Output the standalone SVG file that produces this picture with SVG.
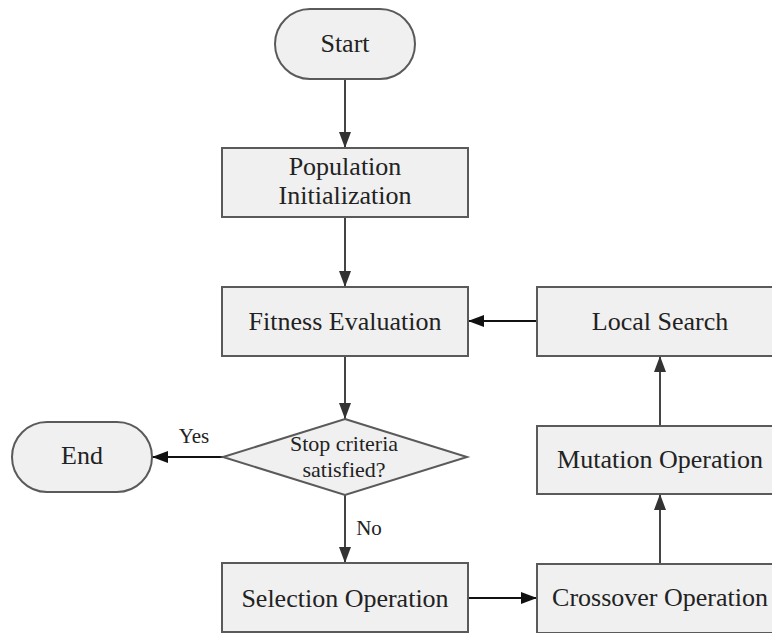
<svg xmlns="http://www.w3.org/2000/svg" width="772" height="633" viewBox="0 0 772 633">
<defs>
<style>
.box{fill:#f0f0f0;stroke:#5a5a5a;stroke-width:2}
.t{font-family:"Liberation Serif","Times New Roman",serif;font-size:26px;fill:#222;text-anchor:middle}
.s{font-family:"Liberation Serif","Times New Roman",serif;font-size:22px;fill:#222;text-anchor:middle}
.ln{stroke:#444;stroke-width:2;fill:none}
.lk{stroke:#111;stroke-width:2;fill:none}
</style>
<marker id="ah" viewBox="0 0 16 12" refX="16" refY="6" markerWidth="16" markerHeight="12" markerUnits="userSpaceOnUse" orient="auto">
<path d="M0,0 L16,6 L0,12 Z" fill="#333"/>
</marker>
<marker id="ak" viewBox="0 0 16 12" refX="16" refY="6" markerWidth="16" markerHeight="12" markerUnits="userSpaceOnUse" orient="auto">
<path d="M0,0 L16,6 L0,12 Z" fill="#111"/>
</marker>
</defs>
<rect width="772" height="633" fill="#fff"/>
<g id="connectors">
<line class="ln" x1="345" y1="79" x2="345" y2="148" marker-end="url(#ah)"/>
<line class="ln" x1="345" y1="217" x2="345" y2="287" marker-end="url(#ah)"/>
<line class="ln" x1="345" y1="356" x2="345" y2="419" marker-end="url(#ah)"/>
<line class="lk" x1="223" y1="457" x2="152" y2="457" marker-end="url(#ak)"/>
<line class="ln" x1="345" y1="495" x2="345" y2="563" marker-end="url(#ah)"/>
<line class="lk" x1="468" y1="598" x2="537" y2="598" marker-end="url(#ak)"/>
<line class="ln" x1="660" y1="564" x2="660" y2="494" marker-end="url(#ah)"/>
<line class="ln" x1="660" y1="426" x2="660" y2="356" marker-end="url(#ah)"/>
<line class="lk" x1="537" y1="321" x2="468" y2="321" marker-end="url(#ak)"/>
<text class="s" x="194" y="443" style="font-size:21px">Yes</text>
<text class="s" x="369" y="535" style="font-size:21px">No</text>
</g>
<g id="start">
<rect class="box" x="275" y="9" width="140" height="70" rx="35" ry="35"/>
<text class="t" x="345" y="52">Start</text>
</g>
<g id="population">
<rect class="box" x="222" y="148" width="246" height="69"/>
<text class="t" x="345" y="175">Population</text>
<text class="t" x="345" y="204">Initialization</text>
</g>
<g id="fitness">
<rect class="box" x="222" y="287" width="246" height="69"/>
<text class="t" x="345" y="330">Fitness Evaluation</text>
</g>
<g id="decision">
<polygon class="box" points="345,419 467,457 345,495 223,457"/>
<text class="s" x="344" y="451">Stop criteria</text>
<text class="s" x="344" y="477">satisfied?</text>
</g>
<g id="end">
<rect class="box" x="12" y="422" width="140" height="70" rx="35" ry="35"/>
<text class="t" x="82" y="464">End</text>
</g>
<g id="selection">
<rect class="box" x="222" y="563" width="246" height="69"/>
<text class="t" x="345" y="607">Selection Operation</text>
</g>
<g id="crossover">
<rect class="box" x="537" y="564" width="246" height="69"/>
<text class="t" x="660" y="606">Crossover Operation</text>
</g>
<g id="mutation">
<rect class="box" x="537" y="426" width="246" height="68"/>
<text class="t" x="660" y="468">Mutation Operation</text>
</g>
<g id="localsearch">
<rect class="box" x="537" y="287" width="246" height="69"/>
<text class="t" x="660" y="330">Local Search</text>
</g>
</svg>
